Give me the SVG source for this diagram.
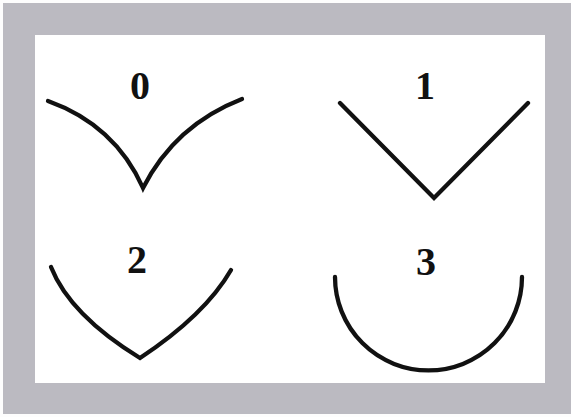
<svg xmlns="http://www.w3.org/2000/svg" width="571" height="417" viewBox="0 0 571 417">
<style>
.c{fill:none;stroke:#111;stroke-width:4.3;stroke-linecap:round;stroke-linejoin:miter}
.l{font-family:"Liberation Serif",serif;font-weight:bold;font-size:40px;fill:#111;text-anchor:middle}
</style>
<rect x="0" y="0" width="571" height="417" fill="#fdfdfd"/>
<rect x="3" y="3" width="568" height="411" fill="#bbbac1"/>
<rect x="35" y="35" width="510" height="348" fill="#ffffff"/>
<g id="node0">
<text class="l" x="140" y="99">0</text>
<path class="c" d="M48,101 Q115,125 143,188 Q175,125 242,99"/>
</g>
<g id="node1">
<text class="l" x="425" y="99">1</text>
<path class="c" d="M340,103 L434,198 L528,103"/>
</g>
<g id="node2">
<text class="l" x="137" y="273">2</text>
<path class="c" d="M51,267 Q70,315 140,358 Q205,315 231,270"/>
</g>
<g id="node3">
<text class="l" x="426" y="275">3</text>
<path class="c" d="M335,277 A93.5,93.5 0 0 0 522,277"/>
</g>
<g id="connectors"/>
</svg>
